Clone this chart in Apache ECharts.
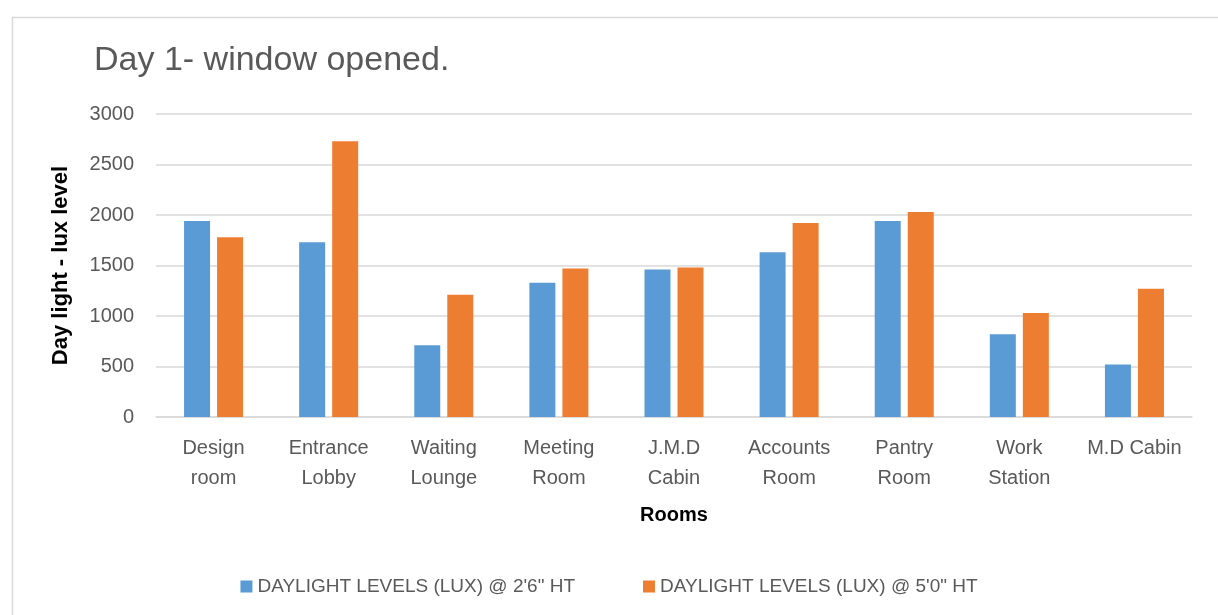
<!DOCTYPE html>
<html>
	<head>
		<meta charset="UTF-8">
		<title>Day 1- window opened.</title>
		<script type="text/javascript" src="https://cdn.jsdelivr.net/npm/echarts@6/dist/echarts.min.js"></script>
		<style>
			html, body { margin: 0; padding: 0; background: #fff; }
		</style>
	</head>
	<body>
		<div id="main" style="height:615px;width:1218px"></div>
	</body>
</html>
<script>
    // data
    var rooms = ['Design\nroom', 'Entrance\nLobby', 'Waiting\nLounge', 'Meeting\nRoom', 'J.M.D\nCabin',
                 'Accounts\nRoom', 'Pantry\nRoom', 'Work\nStation', 'M.D Cabin'];
    var level26 = [1940, 1730, 710, 1330, 1460, 1630, 1940, 820, 520];
    var level50 = [1780, 2730, 1210, 1470, 1480, 1920, 2030, 1030, 1270];
    var seriesNames = ['DAYLIGHT LEVELS (LUX) @ 2\'6" HT', 'DAYLIGHT LEVELS (LUX) @ 5\'0" HT'];

    var font = '"Liberation Sans", Arial, sans-serif';
    var grey = '#595959';

    var myChart = echarts.init(document.getElementById('main'));
    var option = {
        backgroundColor: '#fff',
        textStyle: { fontFamily: font },
        // outer chart border
        graphic: [{
            type: 'rect',
            left: 10, top: 15,
            shape: { width: 1240, height: 640 },
            style: { fill: 'none', stroke: '#d9d9d9', lineWidth: 1.5 },
            silent: true
        }],
        title: {
            text: 'Day 1- window opened.',
            left: 89,
            top: 39,
            textStyle: { fontFamily: font, fontSize: 34, fontWeight: 'normal', color: grey }
        },
        legend: {
            data: seriesNames,
            left: 'center',
            top: 572,
            itemWidth: 12,
            itemHeight: 12,
            itemGap: 68,
            icon: 'rect',
            textStyle: { fontFamily: font, fontSize: 19, color: grey }
        },
        grid: { left: 156, right: 26, top: 114, bottom: 198, containLabel: false },
        xAxis: {
            type: 'category',
            data: rooms,
            name: 'Rooms',
            nameLocation: 'middle',
            nameGap: 88,
            nameTextStyle: { fontFamily: font, fontSize: 20, fontWeight: 'bold', color: '#000' },
            axisLine: { lineStyle: { color: '#d9d9d9', width: 1.5 } },
            axisTick: { show: false },
            axisLabel: { color: grey, fontSize: 20, lineHeight: 30, margin: 16, interval: 0 }
        },
        yAxis: {
            type: 'value',
            min: 0,
            max: 3000,
            interval: 500,
            name: 'Day light - lux level',
            nameLocation: 'middle',
            nameGap: 84,
            nameTextStyle: { fontFamily: font, fontSize: 22, fontWeight: 'bold', color: '#000' },
            axisLine: { show: false },
            axisTick: { show: false },
            axisLabel: { color: grey, fontSize: 20, margin: 22, formatter: function (v) { return String(v); } },
            splitLine: { lineStyle: { color: '#d9d9d9', width: 1.5 } }
        },
        series: [{
            name: seriesNames[0],
            type: 'bar',
            data: level26,
            barWidth: 26,
            barGap: '27%',
            itemStyle: { color: '#5b9bd5' }
        }, {
            name: seriesNames[1],
            type: 'bar',
            data: level50,
            barWidth: 26,
            barGap: '27%',
            itemStyle: { color: '#ed7d31' }
        }]
    };

    myChart.setOption(option);
</script>
